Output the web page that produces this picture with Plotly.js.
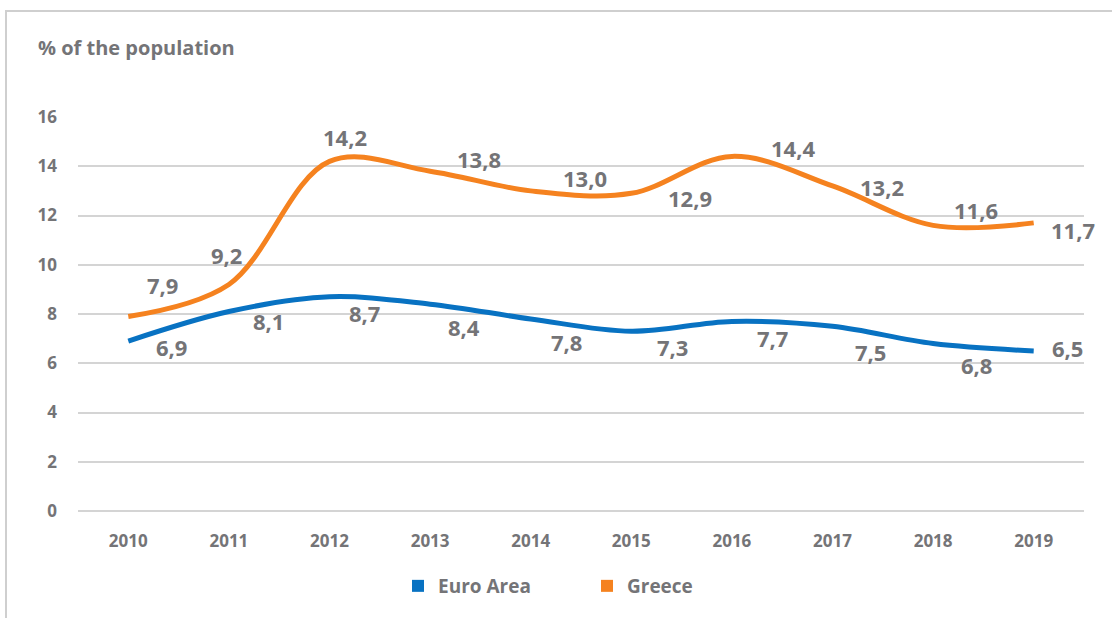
<!DOCTYPE html>
<html>
<head>
<meta charset="utf-8">
<script src="https://cdn.plot.ly/plotly-3.0.1.min.js"></script>
<style>
html,body{margin:0;padding:0;background:#fff;overflow:hidden;}
#chart{width:1112px;height:618px;}
#frame{position:absolute;left:5px;top:10px;width:2000px;height:2000px;border-left:2px solid #cfcfcf;border-top:2px solid #cfcfcf;pointer-events:none;}
</style>
</head>
<body>
<div id="chart"></div>
<div id="frame"></div>
<script>
const years = ['2010','2011','2012','2013','2014','2015','2016','2017','2018','2019'];
const euroArea = [6.9, 8.1, 8.7, 8.4, 7.8, 7.3, 7.7, 7.5, 6.8, 6.5];
const greece = [7.9, 9.2, 14.2, 13.8, 13.0, 12.9, 14.4, 13.2, 11.6, 11.7];
const seriesNames = ['Euro Area', 'Greece'];

// label offsets in pixels (layout only)
const euroOffsets = [[43,-6],[40,-9],[35,-16],[34,-23],[36,-23],[41,-16],[41,-17],[38,-26],[43,-21],[34,3]];
const greeceOffsets = [[34,31],[-2,29],[15,24],[49,12],[54,13],[59,-5],[61,8],[49,-1],[43,15],[39,-7]];

const BLUE = '#0872c2';
const ORANGE = '#f5821f';
const GREY = '#747477';
const FONT = '"Open Sans", sans-serif';

function fmt(v){ return v.toFixed(1).replace('.', ','); }

const traces = [
  {x: years, y: euroArea, mode:'lines', line:{color:BLUE, width:5, shape:'spline', smoothing:1}, showlegend:false, hoverinfo:'skip'},
  {x: years, y: greece, mode:'lines', line:{color:ORANGE, width:5, shape:'spline', smoothing:1}, showlegend:false, hoverinfo:'skip'},
  {x: [null], y: [null], mode:'markers', name: seriesNames[0], marker:{symbol:'square', size:15, color:BLUE}},
  {x: [null], y: [null], mode:'markers', name: seriesNames[1], marker:{symbol:'square', size:15, color:ORANGE}}
];

const annotations = [];
euroArea.forEach((v,i)=>{
  annotations.push({xref:'x', yref:'y', x: i, y: v, text: fmt(v), showarrow:false, xshift: euroOffsets[i][0], yshift: euroOffsets[i][1],
    font:{family:FONT, size:22, color:GREY, weight:700}});
});
greece.forEach((v,i)=>{
  annotations.push({xref:'x', yref:'y', x: i, y: v, text: fmt(v), showarrow:false, xshift: greeceOffsets[i][0], yshift: greeceOffsets[i][1],
    font:{family:FONT, size:22, color:GREY, weight:700}});
});

const layout = {
  width:1112, height:618,
  margin:{l:78, r:28, t:117, b:107},
  paper_bgcolor:'#fff', plot_bgcolor:'#fff',
  font:{family:FONT, color:GREY, size:16, weight:700},
  title:{text:'% of the population', x:38/1112, xanchor:'left', xref:'container', y:1-48/618, yanchor:'middle', yref:'container',
    font:{family:FONT, size:20, color:GREY, weight:700}},
  xaxis:{type:'category', range:[-0.5, 9.5], showgrid:false, zeroline:false, showline:false, ticks:'',
    ticklabelstandoff:18, tickfont:{family:FONT, size:17, color:GREY, weight:700}, fixedrange:true},
  yaxis:{range:[0,16], dtick:2, tick0:0, showgrid:true, gridcolor:'#d4d4d4', gridwidth:2, zeroline:true, zerolinecolor:'#d4d4d4', zerolinewidth:2,
    showline:false, ticks:'', ticklabelstandoff:20, tickfont:{family:FONT, size:17, color:GREY, weight:700}, fixedrange:true},
  legend:{orientation:'h', x:398/1112, xanchor:'left', xref:'container', y:1-586/618, yanchor:'middle', yref:'container',
    font:{family:FONT, size:19, color:GREY, weight:700},
    itemsizing:'constant', traceorder:'normal', entrywidth:144},
  annotations: annotations,
  hovermode:false
};

Plotly.newPlot('chart', traces, layout, {staticPlot:true, displayModeBar:false});
</script>
</body>
</html>
